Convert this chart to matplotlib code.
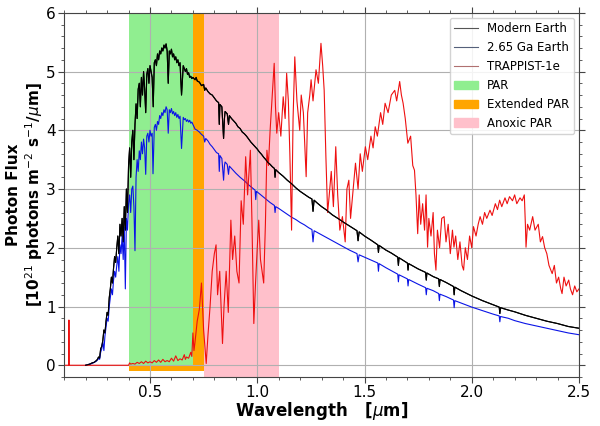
import matplotlib
matplotlib.use("Agg")
import matplotlib.pyplot as plt
from matplotlib.lines import Line2D
from matplotlib.patches import Patch
from matplotlib.ticker import MultipleLocator

# ---------------- data ----------------
modern_earth = [
    (0.20,0.0),(0.21,0.01),(0.22,0.02),(0.23,0.04),(0.24,0.05),(0.25,0.08),(0.255,0.1),(0.26,0.14),
    (0.265,0.12),(0.27,0.28),(0.275,0.32),(0.28,0.42),(0.285,0.6),(0.29,0.55),(0.295,0.75),(0.30,0.9),
    (0.305,0.85),(0.31,1.15),(0.315,1.3),(0.32,1.5),(0.325,1.4),(0.33,1.65),(0.335,1.85),(0.34,1.75),
    (0.345,2.0),(0.35,2.2),(0.355,1.9),(0.36,2.4),(0.365,2.2),(0.37,2.5),(0.375,2.1),(0.38,2.7),
    (0.385,2.3),(0.39,3.0),(0.395,2.6),(0.40,3.4),(0.405,3.7),(0.41,3.2),(0.415,3.8),(0.42,4.0),
    (0.425,3.5),(0.43,4.1),(0.435,4.45),(0.44,4.2),(0.445,4.7),(0.45,4.8),(0.455,4.4),(0.46,4.9),
    (0.465,4.6),(0.47,5.0),(0.475,4.7),(0.48,4.3),(0.485,4.95),(0.49,5.05),(0.495,4.8),(0.50,5.1),
    (0.505,5.0),(0.51,4.9),(0.515,4.4),(0.52,5.15),(0.525,5.2),(0.53,5.1),(0.535,5.3),(0.54,5.2),
    (0.545,5.35),(0.55,5.3),(0.555,5.4),(0.56,5.35),(0.565,5.45),(0.57,5.4),(0.575,5.47),(0.58,5.35),
    (0.585,4.8),(0.59,5.35),(0.595,5.3),(0.60,5.38),(0.605,5.25),(0.61,5.3),(0.615,5.2),(0.62,5.25),
    (0.625,5.15),(0.63,5.2),(0.635,5.1),(0.64,5.15),(0.647,4.6),(0.655,5.1),(0.66,5.05),(0.665,5.0),
    (0.67,5.05),(0.675,4.95),(0.68,4.98),(0.685,4.9),(0.69,4.92),(0.695,4.88),
    (0.70,4.90),(0.71,4.86),(0.715,4.9),(0.72,4.84),(0.73,4.82),(0.74,4.76),(0.75,4.78),(0.755,4.68),
    (0.76,4.72),(0.77,4.66),(0.78,4.62),(0.79,4.6),(0.80,4.55),(0.81,4.5),(0.82,4.47),(0.823,4.1),
    (0.826,4.44),(0.835,4.4),(0.843,3.86),(0.847,4.2),(0.85,4.32),(0.86,4.28),(0.866,4.1),(0.87,4.25),
    (0.88,4.2),(0.89,4.16),(0.90,4.12),(0.91,4.06),(0.92,4.03),(0.93,3.97),(0.94,3.94),(0.95,3.9),
    (0.96,3.85),(0.97,3.8),(0.98,3.76),(0.99,3.72),(1.00,3.68),(1.01,3.63),(1.02,3.59),(1.03,3.54),
    (1.04,3.5),(1.05,3.45),(1.06,3.42),(1.07,3.38),(1.08,3.35),(1.083,3.2),(1.086,3.33),(1.10,3.28),
    (1.12,3.22),(1.14,3.15),(1.16,3.09),(1.18,3.02),(1.20,2.96),(1.22,2.91),(1.24,2.86),(1.255,2.83),
    (1.26,2.62),(1.265,2.81),(1.28,2.76),(1.30,2.70),(1.32,2.65),(1.35,2.56),(1.38,2.49),(1.40,2.44),
    (1.43,2.37),(1.465,2.29),(1.47,2.12),(1.475,2.27),(1.50,2.20),(1.53,2.13),(1.562,2.05),(1.565,1.92),
    (1.568,2.04),(1.60,1.96),(1.625,1.91),(1.655,1.84),(1.658,1.7),(1.661,1.83),(1.70,1.74),(1.703,1.62),
    (1.706,1.73),(1.75,1.64),(1.785,1.58),(1.788,1.45),(1.791,1.57),(1.82,1.51),(1.846,1.47),(1.849,1.34),
    (1.852,1.46),(1.88,1.41),(1.915,1.34),(1.918,1.2),(1.921,1.33),(1.95,1.27),(2.00,1.18),(2.05,1.10),
    (2.10,1.03),(2.128,0.99),(2.131,0.88),(2.134,0.98),(2.17,0.94),(2.20,0.91),(2.25,0.85),(2.30,0.80),
    (2.35,0.75),(2.40,0.71),(2.45,0.66),(2.50,0.63),
]

archean_earth = [
    (0.20,0.0),(0.21,0.01),(0.22,0.02),(0.23,0.03),(0.24,0.05),(0.25,0.07),(0.255,0.09),(0.26,0.12),
    (0.265,0.1),(0.27,0.22),(0.275,0.28),(0.28,0.4),(0.285,0.25),(0.29,0.5),(0.295,0.65),(0.30,0.8),
    (0.305,0.75),(0.31,1.0),(0.315,1.15),(0.32,1.3),(0.325,1.2),(0.33,1.45),(0.335,1.6),(0.34,1.5),
    (0.345,1.7),(0.35,1.85),(0.355,1.6),(0.36,2.05),(0.365,1.9),(0.37,2.2),(0.375,1.8),(0.38,2.35),
    (0.385,1.3),(0.39,2.5),(0.395,2.3),(0.40,2.75),(0.405,2.9),(0.41,2.6),(0.415,3.0),(0.42,3.05),
    (0.425,2.7),(0.43,1.95),(0.435,3.2),(0.44,3.5),(0.445,3.3),(0.45,3.65),(0.455,3.5),(0.46,3.8),
    (0.465,3.6),(0.47,3.85),(0.475,3.7),(0.48,3.25),(0.485,3.9),(0.49,3.95),(0.495,3.8),(0.50,4.0),
    (0.505,3.9),(0.51,3.95),(0.514,3.26),(0.52,4.05),(0.525,4.1),(0.53,4.0),(0.535,4.15),(0.54,4.1),
    (0.545,4.25),(0.55,4.2),(0.555,4.3),(0.56,4.25),(0.565,4.35),(0.57,4.3),(0.575,4.4),(0.58,4.35),
    (0.585,3.95),(0.59,4.35),(0.595,4.3),(0.60,4.37),(0.605,4.28),(0.61,4.32),(0.615,4.25),(0.62,4.3),
    (0.625,4.22),(0.63,4.27),(0.635,4.2),(0.64,4.24),(0.647,3.69),(0.655,4.22),(0.66,4.18),(0.665,4.2),
    (0.67,4.15),(0.675,4.18),(0.68,4.14),(0.685,4.17),(0.69,4.12),(0.695,4.14),
    (0.70,4.1),(0.71,4.02),(0.72,4.0),(0.73,3.97),(0.74,3.93),(0.75,3.9),(0.755,3.8),(0.76,3.86),
    (0.77,3.82),(0.78,3.76),(0.79,3.72),(0.80,3.67),(0.81,3.62),(0.82,3.6),(0.823,3.3),(0.826,3.57),
    (0.835,3.52),(0.843,3.15),(0.847,3.4),(0.85,3.46),(0.86,3.42),(0.866,3.25),(0.87,3.39),(0.88,3.35),
    (0.89,3.31),(0.90,3.27),(0.92,3.2),(0.94,3.14),(0.96,3.07),(0.98,3.01),(0.99,2.98),(0.993,2.82),
    (0.996,2.96),(1.00,2.95),(1.02,2.89),(1.04,2.83),(1.06,2.77),(1.08,2.72),(1.083,2.6),(1.086,2.7),
    (1.10,2.67),(1.12,2.62),(1.14,2.57),(1.16,2.52),(1.18,2.48),(1.20,2.43),(1.22,2.39),(1.24,2.34),
    (1.255,2.31),(1.26,2.1),(1.265,2.29),(1.28,2.26),(1.30,2.22),(1.32,2.18),(1.35,2.12),(1.38,2.06),
    (1.40,2.02),(1.43,1.96),(1.465,1.9),(1.47,1.76),(1.475,1.88),(1.50,1.84),(1.53,1.79),(1.562,1.74),
    (1.565,1.6),(1.568,1.73),(1.60,1.66),(1.625,1.61),(1.655,1.55),(1.658,1.42),(1.661,1.54),(1.70,1.47),
    (1.703,1.35),(1.706,1.46),(1.75,1.38),(1.785,1.32),(1.788,1.2),(1.791,1.31),(1.82,1.27),(1.846,1.22),
    (1.849,1.1),(1.852,1.21),(1.88,1.17),(1.915,1.11),(1.918,0.98),(1.921,1.1),(1.95,1.06),(2.00,0.99),
    (2.05,0.93),(2.10,0.87),(2.128,0.84),(2.131,0.74),(2.134,0.83),(2.17,0.8),(2.20,0.76),(2.25,0.71),
    (2.30,0.67),(2.35,0.63),(2.40,0.59),(2.45,0.55),(2.50,0.52),
]

trappist_1e = [
    (0.10,0.0),(0.121,0.0),(0.122,0.77),(0.123,0.0),(0.40,0.0),(0.405,0.04),(0.41,0.02),(0.42,0.03),
    (0.43,0.02),(0.44,0.05),(0.45,0.03),(0.46,0.06),(0.47,0.03),(0.48,0.07),(0.49,0.04),(0.50,0.06),
    (0.51,0.04),(0.52,0.08),(0.53,0.05),(0.54,0.09),(0.55,0.05),(0.56,0.1),(0.57,0.06),(0.58,0.08),
    (0.59,0.06),(0.60,0.12),(0.61,0.07),(0.62,0.16),(0.63,0.08),(0.64,0.11),(0.65,0.09),(0.66,0.18),
    (0.665,0.1),(0.67,0.14),(0.68,0.12),(0.69,0.22),(0.695,0.15),(0.70,0.55),(0.705,0.25),(0.71,0.4),
    (0.72,0.75),(0.73,0.95),(0.74,1.4),(0.75,0.6),(0.762,0.03),(0.77,0.5),(0.78,1.0),(0.79,1.6),
    (0.80,1.9),(0.808,2.05),(0.815,1.2),(0.825,1.6),(0.838,0.37),(0.845,1.0),(0.855,1.6),(0.865,0.9),
    (0.877,2.47),(0.885,1.8),(0.895,2.2),(0.905,1.6),(0.915,1.4),(0.925,2.8),(0.935,2.4),(0.946,3.55),
    (0.955,2.9),(0.968,3.66),(0.975,2.5),(0.984,0.71),(0.992,1.4),(1.0,2.0),(1.007,2.47),(1.015,1.8),
    (1.03,1.4),(1.038,2.4),(1.045,3.66),(1.052,3.4),(1.06,4.0),(1.07,4.6),(1.079,5.14),(1.085,4.4),
    (1.091,3.95),(1.10,4.3),(1.11,3.9),(1.121,4.57),(1.13,4.2),(1.137,4.97),(1.145,4.5),(1.152,3.6),
    (1.16,2.3),(1.167,4.2),(1.175,5.25),(1.185,4.5),(1.198,4.0),(1.205,4.6),(1.215,4.3),(1.228,3.21),
    (1.235,4.3),(1.245,4.6),(1.251,4.86),(1.26,4.5),(1.274,5.03),(1.285,4.8),(1.297,5.48),(1.305,5.1),
    (1.312,4.68),(1.32,3.55),(1.328,2.6),(1.335,2.87),(1.345,3.3),(1.355,2.7),(1.366,3.72),(1.375,2.9),
    (1.385,2.3),(1.397,2.53),(1.41,2.1),(1.418,3.0),(1.427,3.15),(1.435,2.5),(1.445,2.9),(1.458,3.44),
    (1.47,3.0),(1.48,3.6),(1.49,3.3),(1.504,3.72),(1.515,3.5),(1.53,3.9),(1.54,3.7),(1.55,4.06),
    (1.56,3.9),(1.575,4.3),(1.585,4.1),(1.596,4.46),(1.61,4.3),(1.625,4.6),(1.641,4.68),(1.65,4.5),
    (1.664,4.83),(1.672,4.6),(1.68,4.46),(1.69,4.2),(1.702,3.78),(1.715,3.9),(1.725,3.4),(1.733,3.32),
    (1.74,2.9),(1.748,2.24),(1.755,2.9),(1.762,2.4),(1.771,2.75),(1.78,2.3),(1.787,2.9),(1.794,2.01),
    (1.80,2.5),(1.81,2.2),(1.82,2.6),(1.826,1.9),(1.833,1.62),(1.84,2.3),(1.85,2.0),(1.86,2.5),
    (1.871,2.53),(1.88,2.1),(1.89,2.4),(1.90,1.9),(1.91,2.3),(1.917,2.01),(1.925,2.2),(1.935,1.8),
    (1.945,2.1),(1.955,1.7),(1.962,1.62),(1.97,2.0),(1.98,1.8),(1.99,2.2),(2.0,2.0),(2.008,2.36),
    (2.02,2.2),(2.03,2.4),(2.039,2.53),(2.05,2.4),(2.06,2.6),(2.07,2.5),(2.085,2.64),(2.095,2.55),
    (2.11,2.75),(2.12,2.65),(2.13,2.81),(2.14,2.7),(2.155,2.85),(2.165,2.75),(2.176,2.87),(2.19,2.8),
    (2.2,2.9),(2.21,2.75),(2.225,2.85),(2.235,2.8),(2.245,2.9),(2.25,2.4),(2.253,2.01),(2.26,2.4),
    (2.27,2.3),(2.284,2.53),(2.295,2.3),(2.31,2.4),(2.32,2.1),(2.33,2.19),(2.34,2.0),(2.35,1.9),
    (2.36,1.7),(2.375,1.56),(2.385,1.7),(2.395,1.4),(2.405,1.5),(2.415,1.3),(2.421,1.22),(2.43,1.5),
    (2.44,1.35),(2.452,1.45),(2.46,1.3),(2.47,1.2),(2.48,1.35),(2.49,1.25),(2.5,1.3),
]

series_labels = ["Modern Earth", "2.65 Ga Earth", "TRAPPIST-1e"]
band_labels = ["PAR", "Extended PAR", "Anoxic PAR"]
par_range = (0.4, 0.7)
extended_par_range = (0.4, 0.75)
anoxic_par_range = (0.75, 1.1)
x_ticks = [0.5, 1.0, 1.5, 2.0, 2.5]
y_ticks = [0, 1, 2, 3, 4, 5, 6]

# ---------------- figure ----------------
fig = plt.figure(figsize=(6.0, 4.26), dpi=100)
ax = fig.add_axes([0.107, 0.115, 0.858, 0.855])

ymin, ymax = -0.2, 6.0
c_green, c_orange, c_pink = "#90ee90", "#ffa500", "#ffc0cb"
ax.fill_between(anoxic_par_range, ymin, ymax, color=c_pink, lw=0, zorder=0.5)
ax.fill_between(extended_par_range, -0.1, ymax, color=c_orange, lw=0, zorder=0.6)
ax.fill_between(par_range, 0.0, ymax, color=c_green, lw=0, zorder=0.7)

colors = ["black", "#0a14e6", "#ee1010"]
for data, col in zip([modern_earth, archean_earth, trappist_1e], colors):
    xs = [p[0] for p in data]
    ys = [p[1] for p in data]
    ax.plot(xs, ys, color=col, lw=0.8, zorder=2)
# draw black again above blue
ax.plot([p[0] for p in modern_earth], [p[1] for p in modern_earth], color="black", lw=0.8, zorder=2.1)

ax.set_xlim(0.1, 2.5)
ax.set_ylim(ymin, ymax)
ax.set_xticks(x_ticks)
ax.set_yticks(y_ticks)
ax.xaxis.set_minor_locator(MultipleLocator(0.1))
ax.yaxis.set_minor_locator(MultipleLocator(0.2))
ax.tick_params(which="both", top=True, right=True, direction="out", labelsize=11,
               colors="#444444", pad=2)
ax.tick_params(which="major", length=4)
ax.tick_params(which="minor", length=2.5)
for lab in ax.get_xticklabels() + ax.get_yticklabels():
    lab.set_color("black")
ax.grid(True, which="major", color="#b0b0b0", lw=0.8)
for s in ax.spines.values():
    s.set_color("#444444")

ax.set_xlabel("Wavelength   [$\\mu$m]", fontsize=12, fontweight="bold", labelpad=0)
ax.set_ylabel("Photon Flux\n[10$^{21}$ photons m$^{-2}$ s$^{-1}$/$\\mu$m]",
              fontsize=11, fontweight="bold", labelpad=1, linespacing=1.15)

handles = [
    Line2D([], [], color="#555555", lw=0.8),
    Line2D([], [], color="#55607a", lw=0.8),
    Line2D([], [], color="#b07070", lw=0.8),
    Patch(color=c_green),
    Patch(color=c_orange),
    Patch(color=c_pink),
]
ax.legend(handles, series_labels + band_labels, loc="upper right", fontsize=8.5,
          framealpha=0.85, borderaxespad=0.4, handlelength=2.0)

fig.savefig("out.png", dpi=100)
